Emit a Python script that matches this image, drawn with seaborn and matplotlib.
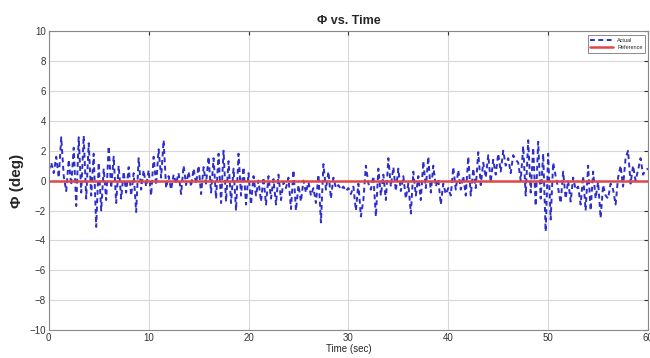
import numpy as np
import pandas as pd
import matplotlib
matplotlib.use("Agg")
import matplotlib.pyplot as plt
import seaborn as sns

# ---- data ----
time_step = 0.25
phi_actual = [
    0.7, 1.2, 0.5, 1.6, 0.2, 2.9, 0.3, -0.7,
    1.4, -0.3, 2.2, -1.7, 2.9, -0.8, 3.0, -1.2,
    2.5, -1.0, 1.8, -3.1, 1.2, -2.0, 0.8, -1.3,
    2.3, -0.5, 1.6, -1.5, 1.0, -1.2, 0.6, -0.8,
    0.9, -1.0, 0.5, -2.1, 1.5, -0.6, 0.7, -0.4,
    0.7, -1.0, 1.6, -0.3, 2.1, 0.2, 2.7, -0.5,
    0.3, -0.6, 0.4, -0.2, 0.5, -0.9, 1.0, -0.3,
    0.6, -0.4, 0.8, -0.2, 1.0, -0.9, 0.9, -0.2,
    1.6, -0.8, 1.5, -1.2, 1.8, -1.5, 2.0, -1.4,
    1.3, -1.5, 0.8, -2.0, 1.8, -1.0, 0.9, -1.6,
    0.5, -1.6, 0.3, -1.0, 0.0, -1.4, 0.2, -1.6,
    0.3, -1.2, 0.1, -1.6, 0.4, -1.3, -0.1, -0.5,
    0.2, -1.9, 0.7, -2.0, -0.3, -1.4, 0.0, -0.8,
    -0.1, -1.0, -0.5, -1.5, 0.4, -2.8, 1.1, -0.6,
    0.6, -1.2, 0.2, -0.5, -0.3, -0.6, -0.4, -0.7,
    -0.5, -0.9, -0.4, -2.0, -0.2, -2.4, -1.3, 1.0,
    -0.2, -0.6, 0.3, -2.4, 0.8, -1.0, 0.4, -1.3,
    1.5, -0.4, 0.9, -0.7, 0.8, -0.7, 0.3, -1.2,
    -0.2, -2.2, 0.6, -1.0, 0.3, -1.3, 1.3, -0.5,
    1.6, -0.8, 1.0, -0.4, 0.1, -1.6, -0.2, -0.9,
    -0.5, -1.0, 0.9, -0.6, 0.7, -0.6, 0.3, -1.0,
    1.6, -1.0, 0.8, -0.5, 1.9, -0.3, 1.2, 0.2,
    1.7, -0.1, 1.4, 0.4, 1.8, 0.6, 2.0, 1.0,
    1.5, 0.5, 1.7, 1.4, 1.2, 0.0, 2.3, -1.0,
    2.7, -0.8, 2.2, -1.7, 2.6, -1.2, 1.8, -3.4,
    1.8, -2.6, 1.2, 0.3, -0.5, -1.5, 0.6, -1.2,
    0.0, -1.4, 0.2, -0.6, -0.4, -1.6, 0.3, -2.0,
    1.0, -2.0, 0.6, -1.2, -0.1, -2.5, -0.3, -1.0,
    -1.2, -0.2, -0.6, -1.6, 0.2, 1.0, -0.4, 1.5,
    2.0, -0.2, 1.0, 0.0, 0.7, 1.5, 0.4, 0.7,
    0.8,
]
time_sec = [i * time_step for i in range(len(phi_actual))]
phi_reference = [0.0 for _ in time_sec]

x_ticks = [0, 10, 20, 30, 40, 50, 60]
y_ticks = [-10, -8, -6, -4, -2, 0, 2, 4, 6, 8, 10]

df = pd.DataFrame({"Time": time_sec, "Actual": phi_actual, "Reference": phi_reference})

sns.set_style("white")
plt.rcParams['font.family'] = ['Liberation Sans', 'DejaVu Sans']

fig = plt.figure(figsize=(6.5, 3.58), dpi=100)
ax = fig.add_axes([0.075, 0.078, 0.922, 0.835])

sns.lineplot(data=df, x="Time", y="Actual", ax=ax, color="#2e2ec8",
             linewidth=1.4, linestyle=(0, (2.5, 1.8)), label="Actual")
sns.lineplot(data=df, x="Time", y="Reference", ax=ax, color="#e04848",
             linewidth=1.8, label="Reference")

ax.set_xlim(0, 60)
ax.set_ylim(-10, 10)
ax.set_xticks(x_ticks)
ax.set_yticks(y_ticks)
ax.grid(True, color="#d8d8d8", linewidth=0.8)
ax.tick_params(direction="in", length=3, labelsize=7, top=True, right=True,
               colors="#333333", pad=2)
for s in ax.spines.values():
    s.set_color("#888888")
    s.set_linewidth(0.8)

ax.set_title("Φ vs. Time", fontsize=9, fontweight="bold", pad=5)
ax.set_xlabel("Time (sec)", fontsize=7, labelpad=1)
ax.set_ylabel("Φ (deg)", fontsize=11, fontweight="bold", labelpad=4)

leg = ax.legend(loc="upper right", fontsize=4, frameon=True, fancybox=False,
                handlelength=4, borderpad=0.5, labelspacing=0.3,
                bbox_to_anchor=(1.0, 0.995))
leg.get_frame().set_edgecolor("#555555")
leg.get_frame().set_linewidth(0.6)

fig.savefig("out.png", dpi=100)
